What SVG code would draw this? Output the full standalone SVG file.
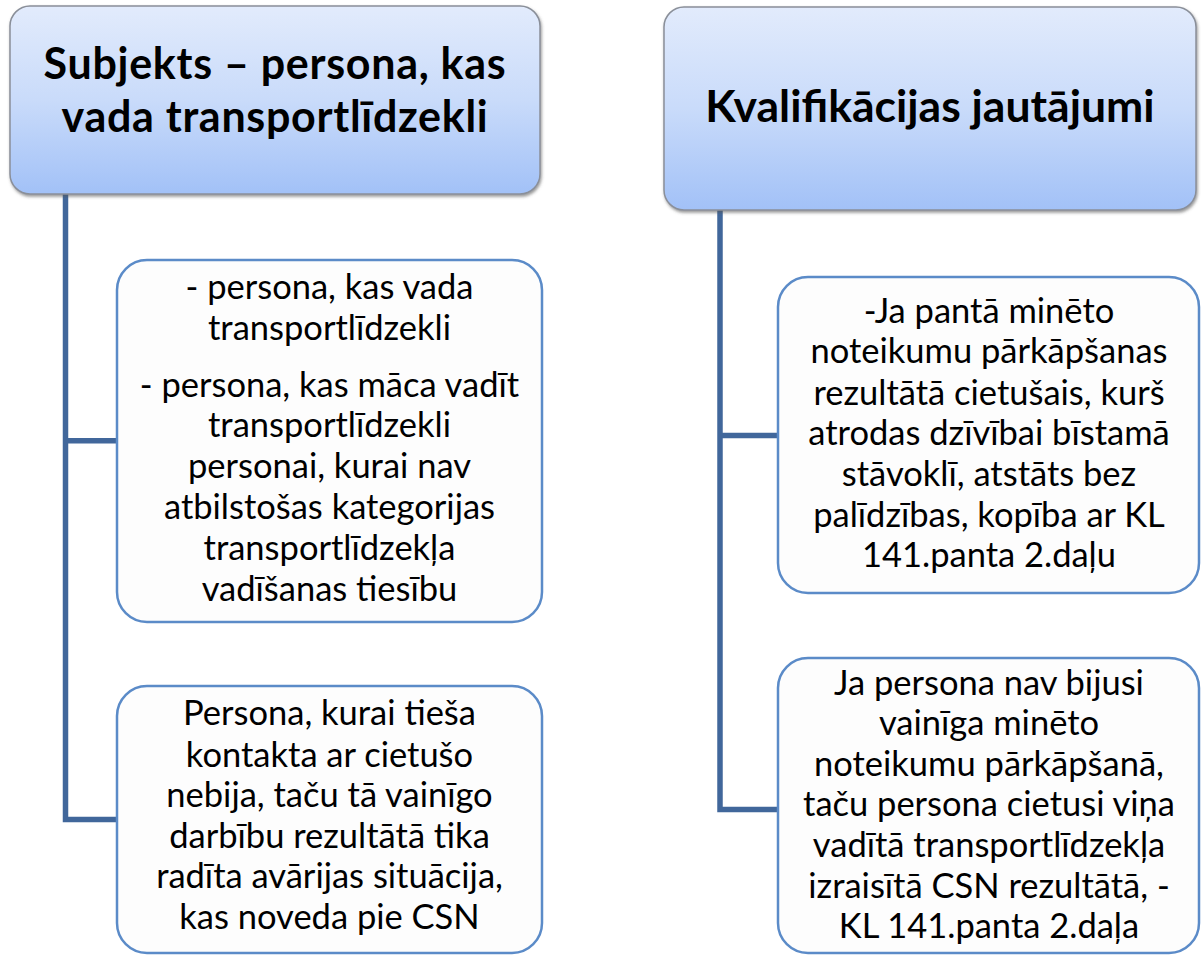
<svg xmlns="http://www.w3.org/2000/svg" width="1202" height="955" viewBox="0 0 1202 955">
<defs>
<linearGradient id="hdr" x1="0" y1="0" x2="0" y2="1">
<stop offset="0" stop-color="#e2ebfc"/>
<stop offset="0.5" stop-color="#c9dbfa"/>
<stop offset="1" stop-color="#a2c1f7"/>
</linearGradient>
<filter id="sh" x="-5%" y="-5%" width="110%" height="115%">
<feDropShadow dx="1" dy="2" stdDeviation="1.5" flood-color="#555555" flood-opacity="0.6"/>
</filter>
</defs>
<style>
.hdr{fill:url(#hdr);stroke:#8a8f99;stroke-width:1.5;filter:url(#sh)}
.box{fill:#fdfdfd;stroke:#5b8bc8;stroke-width:2.5}
.conn{fill:none;stroke:#41679b;stroke-width:5.5;stroke-linejoin:miter}
.ht{font-family:Lato,"Open Sans","Liberation Sans",sans-serif;font-weight:bold;font-size:44.5px;fill:#000;text-anchor:middle}
.ht2{font-family:Lato,"Open Sans","Liberation Sans",sans-serif;font-weight:bold;font-size:43px;letter-spacing:0.7px;fill:#000;text-anchor:middle}
.bt{font-family:Lato,"Open Sans","Liberation Sans",sans-serif;font-size:34.5px;fill:#000;text-anchor:middle}
</style>
<rect width="1202" height="955" fill="#ffffff"/>
<g id="connectors">
<path class="conn" d="M65.5 194 V819.5 H117 M65.5 440.7 H117"/>
<path class="conn" d="M720 210 V809.5 H778 M720 435.5 H778"/>
</g>
<g id="header-left">
<rect class="hdr" x="10" y="6" width="530" height="188" rx="20"/>
<text class="ht2" x="275" y="79">Subjekts – persona, kas</text>
<text class="ht2" x="275" y="131.5">vada transportlīdzekli</text>
</g>
<g id="header-right">
<rect class="hdr" x="664" y="7" width="532" height="203" rx="20"/>
<text class="ht" x="930" y="122">Kvalifikācijas jautājumi</text>
</g>
<g id="box-subject">
<rect class="box" x="117" y="260" width="425" height="362" rx="30"/>
<text class="bt" x="329.5" y="299">- persona, kas vada</text>
<text class="bt" x="329.5" y="340">transportlīdzekli</text>
<text class="bt" x="329.5" y="397">- persona, kas māca vadīt</text>
<text class="bt" x="329.5" y="437">transportlīdzekli</text>
<text class="bt" x="329.5" y="478">personai, kurai nav</text>
<text class="bt" x="329.5" y="519">atbilstošas kategorijas</text>
<text class="bt" x="329.5" y="560">transportlīdzekļa</text>
<text class="bt" x="329.5" y="601">vadīšanas tiesību</text>
</g>
<g id="box-indirect">
<rect class="box" x="117" y="686" width="425" height="267" rx="30"/>
<text class="bt" x="329.5" y="725">Persona, kurai tieša</text>
<text class="bt" x="329.5" y="767">kontakta ar cietušo</text>
<text class="bt" x="329.5" y="807">nebija, taču tā vainīgo</text>
<text class="bt" x="329.5" y="848">darbību rezultātā tika</text>
<text class="bt" x="329.5" y="888">radīta avārijas situācija,</text>
<text class="bt" x="329.5" y="929">kas noveda pie CSN</text>
</g>
<g id="box-qual-1">
<rect class="box" x="778" y="277" width="421" height="316" rx="30"/>
<text class="bt" x="989" y="323">-Ja pantā minēto</text>
<text class="bt" x="989" y="363">noteikumu pārkāpšanas</text>
<text class="bt" x="989" y="405">rezultātā cietušais, kurš</text>
<text class="bt" x="989" y="445">atrodas dzīvībai bīstamā</text>
<text class="bt" x="989" y="486">stāvoklī, atstāts bez</text>
<text class="bt" x="989" y="527">palīdzības, kopība ar KL</text>
<text class="bt" x="989" y="567">141.panta 2.daļu</text>
</g>
<g id="box-qual-2">
<rect class="box" x="778" y="658" width="421" height="295" rx="30"/>
<text class="bt" x="989" y="695">Ja persona nav bijusi</text>
<text class="bt" x="989" y="735">vainīga minēto</text>
<text class="bt" x="989" y="776">noteikumu pārkāpšanā,</text>
<text class="bt" x="989" y="816">taču persona cietusi viņa</text>
<text class="bt" x="989" y="857">vadītā transportlīdzekļa</text>
<text class="bt" x="989" y="898">izraisītā CSN rezultātā, -</text>
<text class="bt" x="989" y="938">KL 141.panta 2.daļa</text>
</g>
</svg>
